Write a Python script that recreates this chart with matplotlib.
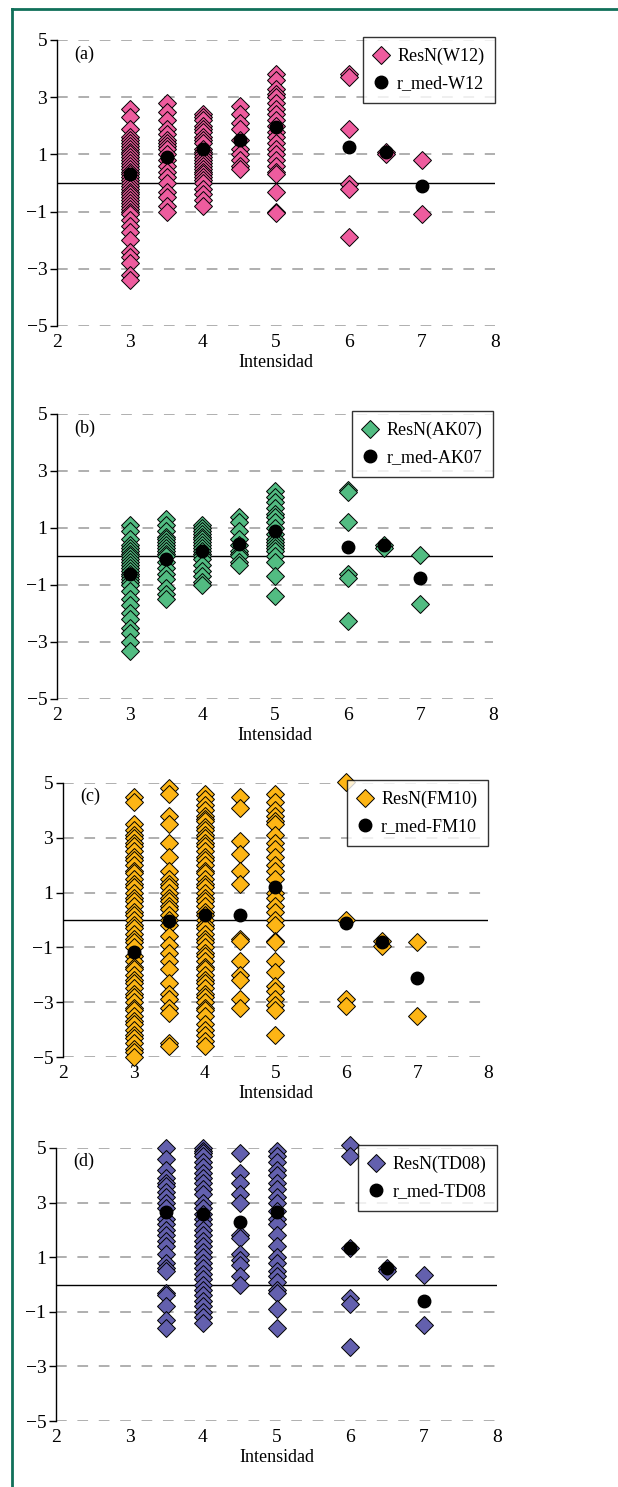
import numpy as np
import matplotlib
matplotlib.use("Agg")
import matplotlib.pyplot as plt
from matplotlib.lines import Line2D

plt.rcParams['font.family'] = ['Liberation Serif', 'DejaVu Serif']

# Intensity columns shared by all panels
INTENSIDAD = [3, 3.5, 4, 4.5, 5, 6, 6.5, 7]

# (a) W12 residuals per intensity column, and medians
RES_W12 = [
    [2.6, 2.3, 1.9, 1.6, 1.5, 1.4, 1.3, 1.2, 1.1, 1.0, 0.9, 0.8, 0.7, 0.6, 0.5, 0.4, 0.3,
     0.2, 0.1, 0.0, -0.1, -0.2, -0.3, -0.4, -0.5, -0.6, -0.7, -0.8, -0.9, -1.0, -1.1,
     -1.3, -1.5, -1.7, -2.0, -2.4, -2.6, -2.8, -3.2, -3.4],
    [2.8, 2.5, 2.2, 1.9, 1.7, 1.5, 1.4, 1.3, 1.2, 1.0, 0.8, 0.6, 0.4, 0.2, 0.0, -0.3,
     -0.5, -0.8, -1.0],
    [2.4, 2.3, 2.2, 2.0, 1.9, 1.8, 1.6, 1.5, 1.4, 1.2, 1.1, 1.0, 0.9, 0.8, 0.7, 0.6, 0.5,
     0.4, 0.3, 0.2, 0.1, 0.0, -0.2, -0.4, -0.6, -0.8],
    [2.7, 2.4, 2.1, 1.9, 1.5, 1.2, 1.0, 0.8, 0.6, 0.5],
    [3.8, 3.6, 3.3, 3.1, 3.0, 2.8, 2.6, 2.4, 2.2, 2.0, 1.8, 1.6, 1.4, 1.2, 1.0, 0.8, 0.6,
     0.4, 0.3, -0.3, -1.0, -1.05],
    [3.8, 3.7, 1.9, -0.05, -0.2, -1.9],
    [1.1, 1.0],
    [0.8, -1.1],
]
MED_W12 = [0.3, 0.9, 1.2, 1.5, 1.95, 1.25, 1.1, -0.1]

# (b) AK07
RES_AK07 = [
    [1.1, 0.9, 0.6, 0.4, 0.3, 0.2, 0.1, 0.0, -0.1, -0.2, -0.3, -0.4, -0.5, -0.6, -0.7,
     -0.8, -0.9, -1.0, -1.2, -1.5, -1.7, -2.0, -2.2, -2.5, -2.7, -3.0, -3.3],
    [1.3, 1.1, 0.9, 0.7, 0.6, 0.5, 0.4, 0.3, 0.2, 0.1, 0.0, -0.2, -0.4, -0.6, -0.8,
     -1.1, -1.3, -1.5],
    [1.1, 1.0, 0.9, 0.8, 0.7, 0.6, 0.5, 0.4, 0.3, 0.2, 0.1, 0.0, -0.1, -0.3, -0.5, -0.7,
     -0.9, -1.0],
    [1.4, 1.2, 0.9, 0.6, 0.4, 0.2, 0.1, 0.0, -0.2, -0.3],
    [2.3, 2.1, 1.9, 1.7, 1.5, 1.4, 1.2, 1.0, 0.8, 0.6, 0.5, 0.4, 0.3, 0.2, 0.0, -0.2,
     -0.7, -1.4],
    [2.35, 2.25, 1.2, -0.6, -0.75, -2.25],
    [0.4, 0.3],
    [0.05, -1.65],
]
MED_AK07 = [-0.6, -0.1, 0.2, 0.45, 0.9, 0.35, 0.4, -0.75]

# (c) FM10
RES_FM10 = [
    [4.5, 4.3, 3.5, 3.3, 3.1, 3.0, 2.8, 2.7, 2.5, 2.3, 2.2, 2.0, 1.8, 1.7, 1.5, 1.3, 1.2,
     1.0, 0.8, 0.7, 0.5, 0.3, 0.2, 0.0, -0.2, -0.3, -0.5, -0.7, -0.8, -1.0, -1.3, -1.5,
     -1.7, -1.8, -2.0, -2.2, -2.3, -2.5, -2.7, -2.8, -3.0, -3.2, -3.3, -3.5, -3.7, -3.8,
     -4.0, -4.2, -4.3, -4.5, -4.7, -4.8, -5.0],
    [4.8, 4.6, 3.8, 3.5, 2.8, 2.3, 1.8, 1.5, 1.3, 1.2, 1.0, 0.8, 0.7, 0.5, 0.4, 0.2, 0.0,
     -0.2, -0.6, -0.9, -1.2, -1.5, -1.8, -2.3, -2.7, -2.9, -3.2, -3.4, -4.5, -4.6],
    [4.6, 4.4, 4.2, 4.0, 3.8, 3.7, 3.6, 3.4, 3.3, 3.1, 3.0, 2.8, 2.7, 2.5, 2.3, 2.2, 2.0,
     1.8, 1.7, 1.5, 1.3, 1.2, 1.0, 0.8, 0.7, 0.5, 0.3, 0.2, 0.0, -0.2, -0.3, -0.5, -0.7,
     -0.8, -1.0, -1.2, -1.3, -1.5, -1.7, -1.8, -2.0, -2.2, -2.3, -2.5, -2.7, -2.8, -3.0,
     -3.2, -3.3, -3.5, -3.8, -4.0, -4.2, -4.4, -4.6],
    [4.5, 4.1, 2.9, 2.4, 1.8, 1.3, -0.7, -0.75, -1.5, -2.0, -2.2, -2.9, -3.2],
    [4.6, 4.3, 4.0, 3.8, 3.6, 3.5, 3.1, 2.8, 2.6, 2.3, 2.0, 1.8, 1.5, 1.0, 0.8, 0.5, 0.3,
     0.0, -0.2, -0.75, -0.8, -1.5, -1.9, -2.4, -2.6, -2.9, -3.1, -3.3, -4.2],
    [5.05, 0.0, -2.9, -3.15],
    [-0.75, -0.95],
    [-0.8, -3.5],
]
MED_FM10 = [-1.15, -0.05, 0.2, 0.2, 1.2, -0.1, -0.8, -2.1]

# (d) TD08 (no data at intensity 3)
RES_TD08 = [
    [],
    [5.0, 4.6, 4.2, 3.9, 3.7, 3.6, 3.4, 3.2, 3.0, 2.8, 2.4, 2.2, 2.0, 1.8, 1.6, 1.4,
     1.1, 0.8, 0.6, 0.5, -0.3, -0.4, -0.8, -1.3, -1.6],
    [5.0, 4.9, 4.8, 4.7, 4.5, 4.3, 4.1, 3.9, 3.7, 3.5, 3.3, 3.0, 2.8, 2.6, 2.4, 2.2, 2.0,
     1.8, 1.6, 1.4, 1.2, 1.0, 0.8, 0.6, 0.4, 0.2, 0.0, -0.2, -0.4, -0.6, -0.8, -1.0,
     -1.2, -1.4],
    [4.8, 4.1, 3.7, 3.3, 3.0, 1.8, 1.7, 1.1, 0.9, 0.7, 0.3, 0.0],
    [4.9, 4.7, 4.5, 4.2, 4.0, 3.7, 3.5, 3.2, 3.0, 2.7, 2.4, 2.2, 1.8, 1.4, 1.0, 0.8,
     0.5, 0.3, 0.1, -0.2, -0.3, -0.9, -1.6],
    [5.1, 4.7, 1.35, -0.5, -0.7, -2.3],
    [0.6, 0.5],
    [0.35, -1.5],
]
MED_TD08 = [np.nan, 2.65, 2.6, 2.3, 2.65, 1.35, 0.6, -0.6]

PANELS = [
    ("(a)", "W12", RES_W12, MED_W12, "#EE5C9E", (57, 495, 40, 326)),
    ("(b)", "AK07", RES_AK07, MED_AK07, "#52BC82", (57, 493, 414, 699)),
    ("(c)", "FM10", RES_FM10, MED_FM10, "#FDB515", (63, 488, 783, 1057)),
    ("(d)", "TD08", RES_TD08, MED_TD08, "#6360AE", (56, 497, 1148, 1421)),
]

W, H = 618, 1487
fig = plt.figure(figsize=(W / 100, H / 100), dpi=100)

# green frame on top and left
fig.add_artist(Line2D([12 / W, 1], [1 - 9 / H, 1 - 9 / H], color="#11705A", lw=2.0,
                      transform=fig.transFigure))
fig.add_artist(Line2D([12 / W, 12 / W], [0, 1 - 9 / H], color="#11705A", lw=2.0,
                      transform=fig.transFigure))

for tag, name, res, med, color, (l, r, t, b) in PANELS:
    ax = fig.add_axes([l / W, 1 - b / H, (r - l) / W, (b - t) / H])

    xs = [x for x, col in zip(INTENSIDAD, res) for _ in col]
    ys = [v for col in res for v in col]

    for yv in [5, 3, 1, -1, -3, -5]:
        ax.axhline(yv, color="#9a9a9a", lw=1.1, dashes=(7, 7), zorder=0)
    ax.axhline(0, color="black", lw=1.0, zorder=1)

    ax.plot(xs, ys, linestyle="none", marker="D", markersize=9,
            markerfacecolor=color, markeredgecolor="black", markeredgewidth=0.7,
            label=f"ResN({name})", zorder=2, clip_on=False)
    ax.plot(INTENSIDAD, med, linestyle="none", marker="o", markersize=9,
            color="black", label=f"r_med-{name}", zorder=3, clip_on=False)

    ax.set_xlim(2, 8)
    ax.set_ylim(-5, 5)
    ax.set_xticks(range(2, 9))
    ax.set_yticks([5, 3, 1, -1, -3, -5])
    ax.set_yticklabels(["5", "3", "1", "\u22121", "\u22123", "\u22125"])
    for side in ["top", "right", "bottom"]:
        ax.spines[side].set_visible(False)
    ax.spines["left"].set_linewidth(1.0)
    ax.tick_params(axis="y", direction="out", length=5, width=1, pad=2, labelsize=14)
    ax.tick_params(axis="x", length=0, pad=6, labelsize=14)
    ax.set_xlabel("Intensidad", fontsize=13, labelpad=2)
    ax.text(0.04, 0.95, tag, transform=ax.transAxes, fontsize=13, va="center", ha="left")
    ax.set_facecolor("none")

    leg = ax.legend(loc="upper right", bbox_to_anchor=(r / W, 1 - (t - 3) / H),
                    bbox_transform=fig.transFigure, borderaxespad=0, fontsize=13,
                    frameon=True, fancybox=False, edgecolor="black", handlelength=0.8,
                    handletextpad=0.5, borderpad=0.6, labelspacing=0.55)
    leg.get_frame().set_linewidth(1.0)
    leg.set_zorder(5)

fig.savefig("out.png", dpi=100)
